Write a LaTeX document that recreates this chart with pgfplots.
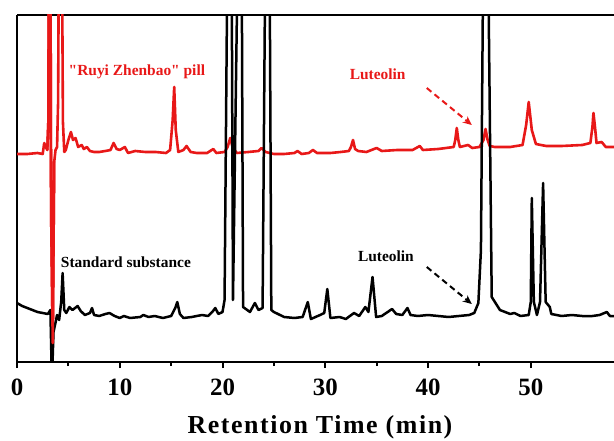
\documentclass[border=0pt]{standalone}
\usepackage{fontspec}
\setmainfont{Liberation Serif}
\newfontfamily\rawserif{Liberation Serif}
\usepackage{pgfplots}
\usepackage{pgfplotstable}
\pgfplotsset{compat=1.18}
\usetikzlibrary{arrows.meta}
\definecolor{cred}{RGB}{232,24,24}

\pgfplotstableread{
x y
0 208
1.0 208
2.0 209
2.5 208
2.65 219
2.8 215
2.95 212
3.05 240
3.18 700
3.32 150
3.48 19
3.62 200
3.75 212
3.9 215
4.0 260
4.22 700
4.47 240
4.6 210
4.75 212
5.0 222
5.25 230
5.45 222
5.7 224
5.95 215
6.3 217
6.5 213
6.8 215
7.1 211
7.5 210
8.0 210
8.6 211
9.1 212
9.4 219
9.7 213
10.0 212
10.5 215
10.8 209
11.5 211
12.5 210
13.5 210
14.5 209
14.9 212
15.15 242
15.3 275
15.45 232
15.7 210
16.2 212
16.5 216
16.9 210
17.5 209
18.5 209
19.1 213
19.4 209
20.2 210
20.5 215
20.75 224
21.0 214
21.4 209
22.5 210
23.5 211
23.8 214
24.2 210
25.0 208
26.0 208
27.0 209
27.3 211
27.7 208
28.4 209
28.8 212
29.2 209
30.5 209
31.5 210
32.3 211
32.5 215
32.7 222
32.9 213
33.2 211
34.0 210
35.0 214
35.5 211
37.0 212
38.5 212
39.2 216
39.5 212
41.0 213
42.5 215
42.65 222
42.8 234
42.95 222
43.1 215
43.9 217
44.3 214
45.0 215
45.4 222
45.6 233
45.8 222
46.0 216
46.5 215
48.0 215
49.2 217
49.55 237
49.8 260
50.1 232
50.5 218
51.5 216
53.0 216
55.0 217
55.8 219
56.0 235
56.1 249
56.25 235
56.4 219
56.9 220
57.3 215
58.1 215
}\redtrace

\pgfplotstableread{
x y
0 59
0.5 56
1.0 54
1.5 52
2.0 50
2.5 49
3.0 48
3.25 52
3.4 -20
3.55 30
3.7 37
3.9 47
4.1 42
4.3 60
4.44 89
4.6 52
4.8 49
5.1 55
5.4 52
5.9 56
6.2 51
6.6 47
7.1 49
7.3 54
7.5 47
8.0 46
8.6 48
9.0 49
9.5 46
10.0 44
10.4 46
11.0 44
12.0 45
12.3 47
12.8 45
13.4 46
14.2 44
15.0 46
15.4 54
15.6 60
15.85 48
16.2 44
17.0 45
18.0 47
18.6 46
19.0 50
19.3 54
19.6 48
20.0 50
20.2 62
20.43 347
20.67 800
20.91 347
21.02 62
21.40 347
21.64 800
21.89 347
22.0 55
22.67 50
23.15 59
23.5 52
23.9 54
24.12 347
24.37 800
24.61 347
24.75 52
25.0 50
26.0 45
27.0 44
27.8 45
28.3 60
28.6 43
29.5 47
29.9 49
30.2 73
30.5 44
31.4 45
32.0 43
32.8 49
33.3 46
33.9 55
34.2 50
34.6 85
34.95 45
35.5 46
36.5 53
36.9 48
37.5 47
38.0 54
38.3 47
39.0 46
40.0 47
41.0 46
42.0 45
43.0 46
44.0 47
44.5 49
44.9 59
45.15 112
45.33 347
45.6 800
45.91 347
46.2 65
47.0 52
48.0 48
48.4 49
49.0 46
49.8 47
50.0 60
50.1 164
50.3 60
50.6 47
50.9 60
51.2 179
51.45 60
51.85 55
52.0 48
53.0 46
54.0 47
55.0 46
56.0 46
56.7 47
57.4 50
57.7 46
58.1 46
}\blacktrace

\begin{document}
\begin{tikzpicture}
\begin{axis}[
  scale only axis,
  width=597bp, height=347bp,
  xmin=0, xmax=58.1, ymin=0, ymax=347,
  axis x line*=box, axis y line*=left,
  axis line style={line width=2.4bp, black},
  xtick={0,10,20,30,40,50},
  minor x tick num=1,
  ytick=\empty,
  xtick pos=bottom,
  tick align=outside,
  major tick length=6bp, minor tick length=4bp,
  every tick/.style={black, line width=2bp},
  /pgf/number format/assume math mode=true,
  xticklabel style={font=\fontsize{25}{25}\selectfont\bfseries, anchor=base, yshift=-27bp},
  xlabel={Retention Time (min)},
  xlabel style={font=\fontsize{26}{26}\selectfont\bfseries\addfontfeature{LetterSpace=6}, at={(axis description cs:0.5075,-0.207)}, anchor=base},
]
\addplot[cred, line width=2.6bp, line join=round] table[x=x,y=y] {\redtrace};
\addplot[black, line width=2.5bp, line join=round] table[x=x,y=y] {\blacktrace};
\addplot[cred, line width=2.6bp, line join=round, restrict x to domain=2.9:3.7] table[x=x,y=y] {\redtrace};
\node[cred, font=\fontsize{15.5}{15.5}\rawserif\selectfont\bfseries] at (axis cs:11.67,290) {"Ruyi Zhenbao" pill};
\node[cred, font=\fontsize{15.5}{15.5}\selectfont\bfseries] at (axis cs:35.1,288) {Luteolin};
\node[black, font=\fontsize{15.5}{15.5}\selectfont\bfseries] at (axis cs:35.9,106) {Luteolin};
\node[black, font=\fontsize{15.5}{15.5}\selectfont\bfseries] at (axis cs:10.6,100) {Standard substance};
\draw[cred, line width=2bp, dash pattern=on 6bp off 4bp, -{Stealth[length=9bp,width=8bp]}] (axis cs:39.88,274) -- (axis cs:44.26,237);
\draw[black, line width=2bp, dash pattern=on 6bp off 4bp, -{Stealth[length=9bp,width=8bp]}] (axis cs:39.88,95) -- (axis cs:44.26,58);
\end{axis}
\pgfresetboundingbox
\path[use as bounding box] ([shift={(-17bp,-79bp)}]current axis.south west) rectangle ([shift={(0bp,15bp)}]current axis.north east);
\end{tikzpicture}
\end{document}
